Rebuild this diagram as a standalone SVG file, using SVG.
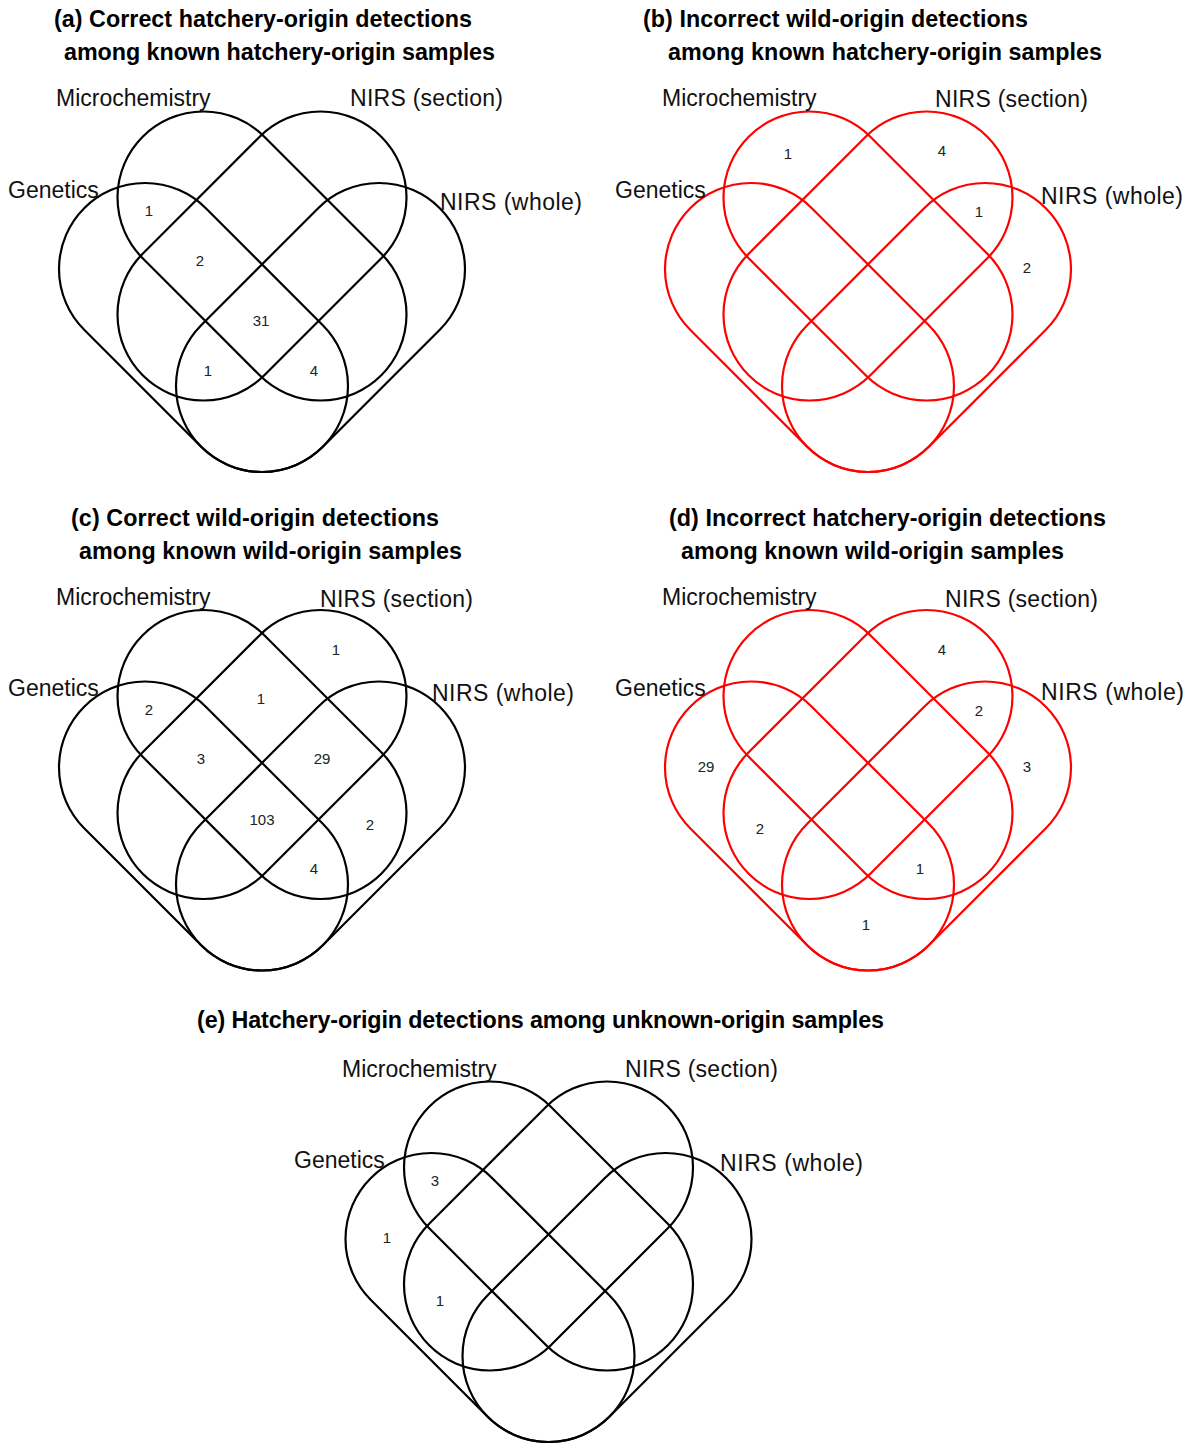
<svg xmlns="http://www.w3.org/2000/svg" xmlns:xlink="http://www.w3.org/1999/xlink" width="1195" height="1443" viewBox="0 0 1195 1443">
<style>
.t{font-family:"Liberation Sans",Arial,sans-serif;font-weight:bold;font-size:23.3px;fill:#000}
.l{font-family:"Liberation Sans",Arial,sans-serif;font-size:23px;fill:#111}
.n{font-family:"Liberation Sans",Arial,sans-serif;font-size:15px;fill:#222;text-anchor:middle}
.k{fill:none;stroke:#000;stroke-width:2.2}
.r{fill:none;stroke:#f00;stroke-width:2.2}
</style>
<defs>
<rect id="cap" x="-168.73" y="-86" width="337.46" height="172" rx="86" ry="86"/>
</defs>
<rect width="1195" height="1443" fill="#fff"/>

<g id="panel-a">
<text class="t" x="54" y="27" textLength="418">(a) Correct hatchery-origin detections</text>
<text class="t" x="64" y="60" textLength="431">among known hatchery-origin samples</text>
<g id="a-sets" class="k">
<use id="a-micro" href="#cap" transform="translate(262,256) rotate(45)"/>
<use id="a-section" href="#cap" transform="translate(262,256) rotate(-45)"/>
<use id="a-genetics" href="#cap" transform="translate(203.5,327.5) rotate(45)"/>
<use id="a-whole" href="#cap" transform="translate(320.5,327.5) rotate(-45)"/>
</g>
<text class="l" x="56" y="106">Microchemistry</text>
<text class="l" x="350" y="106" textLength="153">NIRS (section)</text>
<text class="l" x="8" y="198">Genetics</text>
<text class="l" x="440" y="210" textLength="142">NIRS (whole)</text>
<text class="n" x="149" y="215.5">1</text>
<text class="n" x="200" y="265.5">2</text>
<text class="n" x="261" y="325.5">31</text>
<text class="n" x="208" y="375.5">1</text>
<text class="n" x="314" y="375.5">4</text>
</g>

<g id="panel-b">
<text class="t" x="643" y="27" textLength="385">(b) Incorrect wild-origin detections</text>
<text class="t" x="668" y="60" textLength="434">among known hatchery-origin samples</text>
<g id="b-sets" class="r">
<use id="b-micro" href="#cap" transform="translate(868,256) rotate(45)"/>
<use id="b-section" href="#cap" transform="translate(868,256) rotate(-45)"/>
<use id="b-genetics" href="#cap" transform="translate(809.5,327.5) rotate(45)"/>
<use id="b-whole" href="#cap" transform="translate(926.5,327.5) rotate(-45)"/>
</g>
<text class="l" x="662" y="106">Microchemistry</text>
<text class="l" x="935" y="107" textLength="153">NIRS (section)</text>
<text class="l" x="615" y="198">Genetics</text>
<text class="l" x="1041" y="204" textLength="142">NIRS (whole)</text>
<text class="n" x="788" y="158.5">1</text>
<text class="n" x="942" y="155.5">4</text>
<text class="n" x="979" y="216.5">1</text>
<text class="n" x="1027" y="272.5">2</text>
</g>

<g id="panel-c">
<text class="t" x="71" y="526" textLength="368">(c) Correct wild-origin detections</text>
<text class="t" x="79" y="559" textLength="383">among known wild-origin samples</text>
<g id="c-sets" class="k">
<use id="c-micro" href="#cap" transform="translate(262,754.5) rotate(45)"/>
<use id="c-section" href="#cap" transform="translate(262,754.5) rotate(-45)"/>
<use id="c-genetics" href="#cap" transform="translate(203.5,826) rotate(45)"/>
<use id="c-whole" href="#cap" transform="translate(320.5,826) rotate(-45)"/>
</g>
<text class="l" x="56" y="605">Microchemistry</text>
<text class="l" x="320" y="607" textLength="153">NIRS (section)</text>
<text class="l" x="8" y="696">Genetics</text>
<text class="l" x="432" y="701" textLength="142">NIRS (whole)</text>
<text class="n" x="149" y="714.5">2</text>
<text class="n" x="261" y="703.5">1</text>
<text class="n" x="336" y="654.5">1</text>
<text class="n" x="201" y="763.5">3</text>
<text class="n" x="322" y="763.5">29</text>
<text class="n" x="262" y="824.5">103</text>
<text class="n" x="370" y="829.5">2</text>
<text class="n" x="314" y="873.5">4</text>
</g>

<g id="panel-d">
<text class="t" x="669" y="526" textLength="437">(d) Incorrect hatchery-origin detections</text>
<text class="t" x="681" y="559" textLength="383">among known wild-origin samples</text>
<g id="d-sets" class="r">
<use id="d-micro" href="#cap" transform="translate(868,754.5) rotate(45)"/>
<use id="d-section" href="#cap" transform="translate(868,754.5) rotate(-45)"/>
<use id="d-genetics" href="#cap" transform="translate(809.5,826) rotate(45)"/>
<use id="d-whole" href="#cap" transform="translate(926.5,826) rotate(-45)"/>
</g>
<text class="l" x="662" y="605">Microchemistry</text>
<text class="l" x="945" y="607" textLength="153">NIRS (section)</text>
<text class="l" x="615" y="696">Genetics</text>
<text class="l" x="1041" y="700" textLength="143">NIRS (whole)</text>
<text class="n" x="942" y="654.5">4</text>
<text class="n" x="979" y="715.5">2</text>
<text class="n" x="706" y="771.5">29</text>
<text class="n" x="1027" y="771.5">3</text>
<text class="n" x="760" y="833.5">2</text>
<text class="n" x="920" y="873.5">1</text>
<text class="n" x="866" y="929.5">1</text>
</g>

<g id="panel-e">
<text class="t" x="197" y="1028" textLength="687">(e) Hatchery-origin detections among unknown-origin samples</text>
<g id="e-sets" class="k">
<use id="e-micro" href="#cap" transform="translate(548.5,1226) rotate(45)"/>
<use id="e-section" href="#cap" transform="translate(548.5,1226) rotate(-45)"/>
<use id="e-genetics" href="#cap" transform="translate(490,1297.5) rotate(45)"/>
<use id="e-whole" href="#cap" transform="translate(607,1297.5) rotate(-45)"/>
</g>
<text class="l" x="342" y="1077">Microchemistry</text>
<text class="l" x="625" y="1077" textLength="153">NIRS (section)</text>
<text class="l" x="294" y="1168">Genetics</text>
<text class="l" x="720" y="1171" textLength="143">NIRS (whole)</text>
<text class="n" x="435" y="1185.5">3</text>
<text class="n" x="387" y="1242.5">1</text>
<text class="n" x="440" y="1305.5">1</text>
</g>
</svg>
